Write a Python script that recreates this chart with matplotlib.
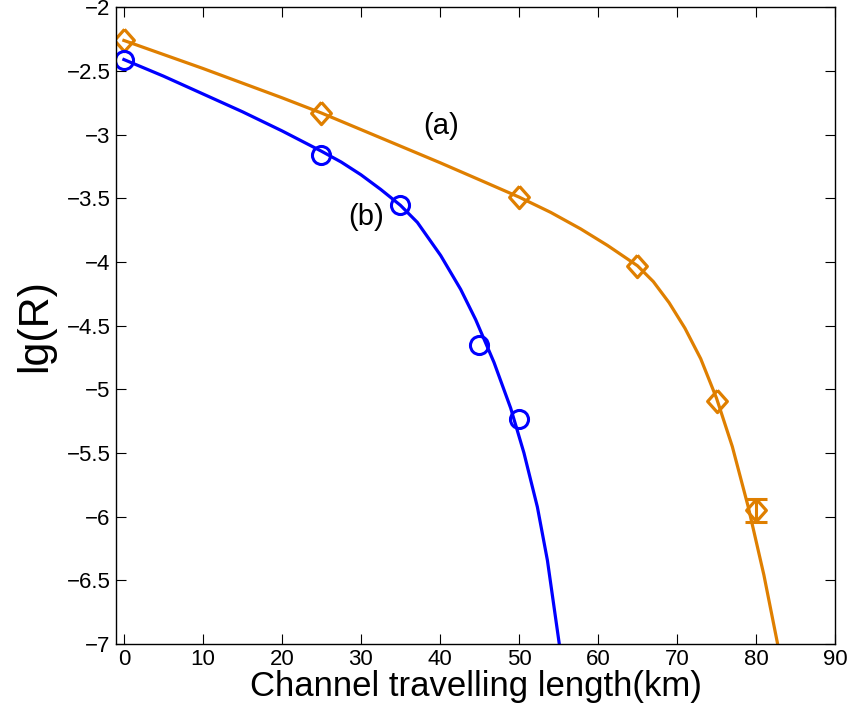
import matplotlib.pyplot as plt

plt.rcParams['font.family'] = ['Liberation Sans', 'DejaVu Sans']

# measured points
xa = [0, 25, 50, 65, 75, 80]
ya = [-2.26, -2.83, -3.49, -4.03, -5.09, -5.95]
ea = [0, 0, 0, 0, 0, 0.09]

xb = [0, 25, 35, 45, 50]
yb = [-2.41, -3.16, -3.55, -4.65, -5.23]

# fitted curves
fit_xa = [0, 10, 20, 25, 30, 40, 45.2, 50, 54, 57.8, 61.2, 65, 67, 69, 71, 73,
          75, 77, 79, 81, 82.7]
fit_ya = [-2.26, -2.48, -2.71, -2.83, -2.96, -3.22, -3.36, -3.49, -3.61, -3.74,
          -3.87, -4.03, -4.154, -4.32, -4.52, -4.76, -5.07, -5.45, -5.92, -6.46,
          -6.99]

fit_xb = [0, 5, 10, 15, 20, 25, 27.5, 30, 32.5, 35, 37.14, 40.09, 42.62, 44.52,
          46.84, 48.95, 50.63, 52.33, 53.6, 55.1]
fit_yb = [-2.41, -2.54, -2.68, -2.82, -2.97, -3.13, -3.215, -3.315, -3.43, -3.555,
          -3.689, -3.949, -4.215, -4.453, -4.789, -5.148, -5.50, -5.925, -6.344, -7.0]

orange = '#df7f00'
blue = '#0000ff'
diamond = [(0, 1), (0.89, 0), (0, -1), (-0.89, 0), (0, 1)]

fig = plt.figure(figsize=(8.56, 7.21), dpi=100)
ax = fig.add_axes([0.1355, 0.107, 0.84, 0.8828])

ax.plot(fit_xa, fit_ya, color=orange, lw=2.3)
ax.plot(fit_xb, fit_yb, color=blue, lw=2.3)

# error bars only where there is an error
ex = [x for x, e in zip(xa, ea) if e > 0]
ey = [y for y, e in zip(ya, ea) if e > 0]
ee = [e for e in ea if e > 0]
ax.errorbar(ex, ey, yerr=ee, fmt='none', ecolor=orange, elinewidth=2.2,
            capsize=8, capthick=2.2)
ax.plot(xa, ya, marker=diamond, ls='none', color=orange, ms=16, mfc='none', mew=2.3)
ax.plot(xb, yb, 'o', color=blue, ms=13, mfc='none', mew=2.2)

ax.text(40.2, -2.93, '(a)', fontsize=21, ha='center', va='center')
ax.text(30.6, -3.65, '(b)', fontsize=21, ha='center', va='center')

ax.set_xlim(-1, 90)
ax.set_ylim(-7, -2)
ax.set_xticks(range(0, 91, 10))
ax.set_yticks([-7, -6.5, -6, -5.5, -5, -4.5, -4, -3.5, -3, -2.5, -2])
ax.set_yticklabels(['\u22127', '\u22126.5', '\u22126', '\u22125.5', '\u22125', '\u22124.5',
                    '\u22124', '\u22123.5', '\u22123', '\u22122.5', '\u22122'])
ax.tick_params(direction='in', top=True, right=True, length=7, width=0.8,
               labelsize=16, pad=4)
for s in ax.spines.values():
    s.set_linewidth(1.0)

ax.set_xlabel('Channel travelling length(km)', fontsize=25, labelpad=0)
ax.set_ylabel('lg(R)', fontsize=31, labelpad=8)

fig.savefig('out.png', dpi=100)
